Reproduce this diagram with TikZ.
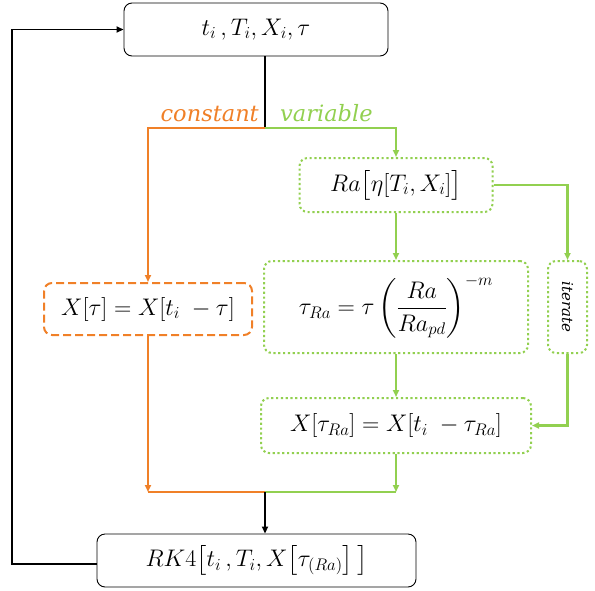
\documentclass[tikz,border=0pt]{standalone}
\usepackage{fix-cm}
\usepackage{amsmath}
\usepackage{fontspec}
\newfontfamily\lblfont{DejaVu Serif}
\usetikzlibrary{arrows.meta,calc}
\definecolor{org}{RGB}{240,128,40}
\definecolor{grn}{RGB}{146,208,80}
\begin{document}
\begin{tikzpicture}[x=1pt,y=-1pt,
 box/.style={rounded corners=8pt, draw, inner sep=0pt, font=\fontsize{24}{28}\selectfont},
 blkbox/.style={box, draw=black, line width=0.9pt},
 grnbox/.style={box, draw=grn, line width=2pt, dash pattern=on 2.2pt off 2.6pt},
 orgbox/.style={box, draw=org, line width=2pt, dash pattern=on 8pt off 4pt},
 blk/.style={draw=black, line width=1.7pt},
 gline/.style={draw=grn, line width=2.2pt},
 oline/.style={draw=org, line width=2.2pt},
 tip/.style={-{Triangle[length=7pt,width=6pt]}},
 lbl/.style={inner sep=0pt, font=\lblfont\itshape\fontsize{22.5}{26}\selectfont}
]
\useasboundingbox (0,0) rectangle (595,590);
\node[blkbox, minimum width=264pt, minimum height=53pt] (top) at (256,29.5) {$t_i\,,T_i,X_i,\tau$};
\node[grnbox, minimum width=193pt, minimum height=54pt] (ra) at (396,185) {$Ra\big[\eta[T_i,X_i]\big]$};
\node[grnbox, minimum width=264pt, minimum height=92pt] (tau) at (396,307) {$\tau_{Ra}=\tau\left(\dfrac{Ra}{Ra_{pd}}\right)^{-m}$};
\node[grnbox, minimum width=39pt, minimum height=92pt] (it) at (567.5,307) {};
\node[lbl, rotate=-90, font=\lblfont\itshape\fontsize{15}{17}\selectfont] (itl) at (it) {iterate};
\node[orgbox, minimum width=208pt, minimum height=52pt] (xc) at (148,309) {$X[\tau]=X[t_i\;-\tau]$};
\node[grnbox, minimum width=270pt, minimum height=55pt] (xv) at (396,425.5) {$X[\tau_{Ra}]=X[t_i\;-\tau_{Ra}]$};
\node[blkbox, minimum width=319pt, minimum height=53pt] (rk) at (256.5,560.5) {$RK4\big[t_i\,,T_i,X\big[\tau_{(Ra)}\big]\,\big]$};
\node[lbl, text=org, anchor=base east] (lc) at (259,121) {constant};
\node[lbl, text=grn, anchor=base west] (lv) at (280,121) {variable};
\coordinate (split) at (265,128);
\coordinate (merge) at (265,492);
\coordinate (loopx) at (12,0);
\draw[blk] (split |- top.south) -- (split);
\draw[oline, tip] (split) -| (xc.north);
\draw[gline, tip] (split) -| (ra.north);
\draw[gline, tip] (ra.south) -- (tau.north);
\draw[gline, tip] (ra.east) -| (it.north);
\draw[gline, tip] (tau.south) -- (xv.north);
\draw[gline, tip] (it.south) |- (xv.east);
\draw[oline] (xc.south |- merge) -- (merge);
\draw[gline] (merge) -- (xv.south |- merge);
\draw[oline, tip] (xc.south) -- (xc.south |- merge);
\draw[gline, tip] (xv.south) -- (xv.south |- merge);
\draw[blk, tip] (merge) -- (merge |- rk.north);
\draw[blk, tip] ($(rk.west)+(0,3.5)$) -| (loopx |- top.west) -- (top.west);
\end{tikzpicture}
\end{document}
